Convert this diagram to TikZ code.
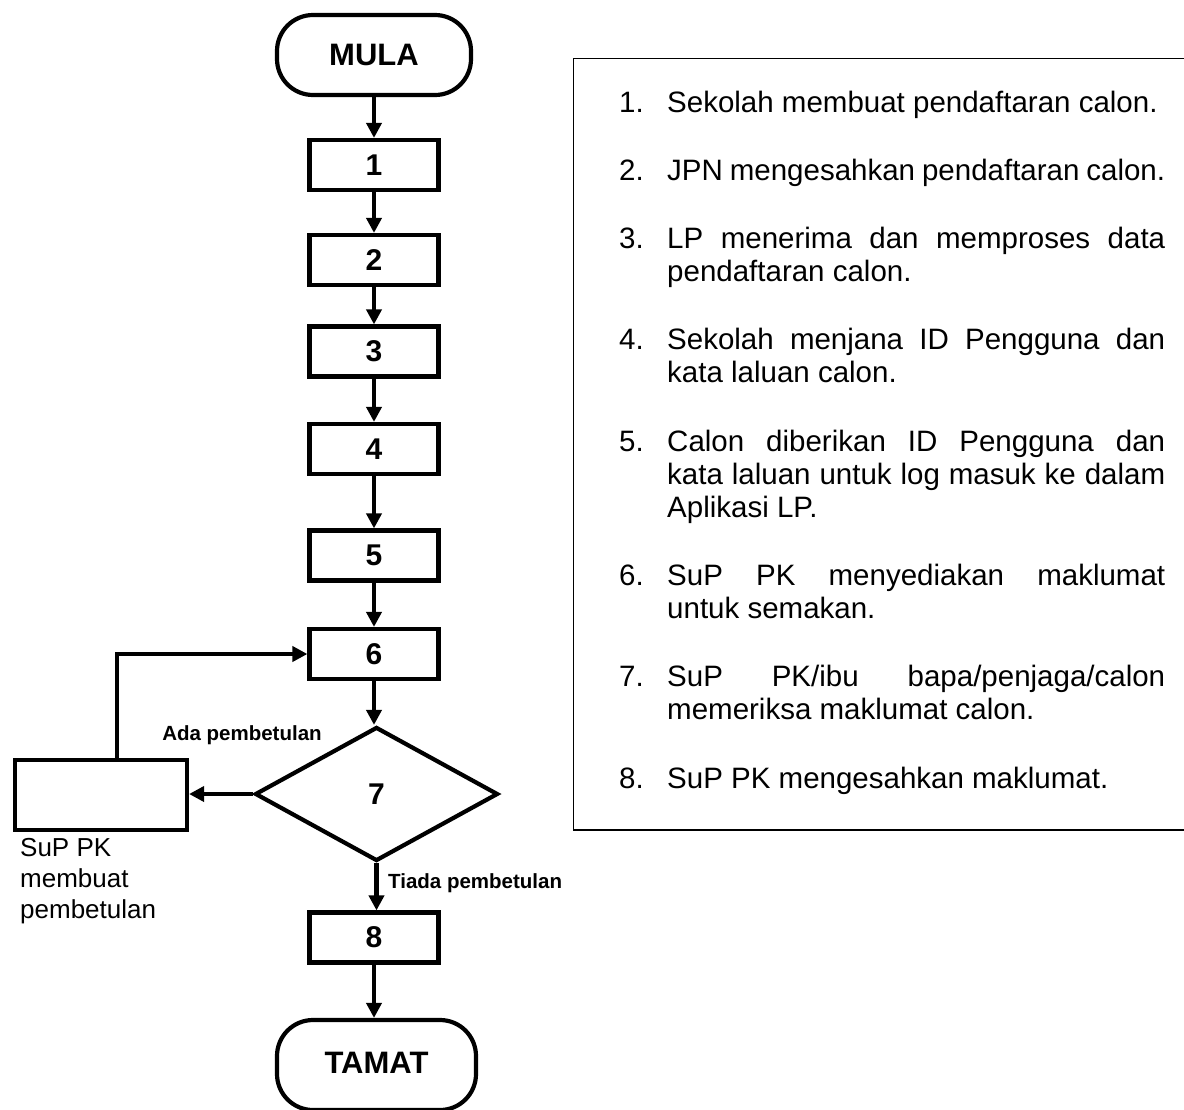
\documentclass[tikz,border=0pt]{standalone}
\usepackage{fontspec}
\setmainfont{Liberation Sans}
\usetikzlibrary{shapes.geometric,arrows.meta}

% one numbered entry of the explanation list: number, then a hanging block
\newcommand\listentry[2]{\makebox[48pt][l]{#1}\parbox[t]{498pt}{#2}}
\newcommand\fillline[1]{\makebox[\linewidth][s]{#1}}

\begin{document}
\begin{tikzpicture}[x=1pt,y=-1pt,
  line join=miter,
  flowline/.style={line width=4.2pt},
  arr/.style={flowline,-{Triangle[length=15pt,width=15pt]}},
  terminal/.style={draw,flowline,rounded corners=36pt,minimum width=194pt,
    minimum height=80pt,inner sep=0pt,font=\fontsize{31}{36}\selectfont\bfseries},
  stepbox/.style={draw,flowline,minimum width=129pt,minimum height=50pt,
    inner sep=0pt,font=\fontsize{30}{36}\selectfont\bfseries},
  decision/.style={draw,flowline,diamond,minimum width=243pt,minimum height=134pt,
    inner sep=0pt,font=\fontsize{30}{36}\selectfont\bfseries},
  branchlbl/.style={font=\fontsize{20.5}{24}\selectfont\bfseries,inner sep=0pt},
  sidenote/.style={font=\fontsize{26}{31}\selectfont,align=left,inner sep=0pt},
  listitem/.style={font=\fontsize{29.5}{33}\selectfont,inner sep=0pt,anchor=base west},
  frame/.style={draw,line width=1.5pt,inner sep=0pt},
]
\useasboundingbox (0,0) rectangle (1184,1109);

% ---- flowchart ----
\node[terminal] (start) at (374,55) {MULA};
\node[stepbox] (s1) at (374,165) {1};
\node[stepbox] (s2) at (374,260) {2};
\node[stepbox] (s3) at (374,351.5) {3};
\node[stepbox] (s4) at (374,449) {4};
\node[stepbox] (s5) at (374,555.5) {5};
\node[stepbox] (s6) at (374,654) {6};
\node[decision] (d7) at (376.5,794) {7};
\node[draw,flowline,minimum width=172pt,minimum height=70pt,inner sep=0pt] (fix) at (101,795) {};
\node[stepbox] (s8) at (374,937.5) {8};
\node[terminal,minimum width=199pt,minimum height=90pt,text height=22pt,text depth=6pt]
  (end) at (376.5,1065) {TAMAT};

\draw[arr] (start) -- (s1);
\draw[arr] (s1) -- (s2);
\draw[arr] (s2) -- (s3);
\draw[arr] (s3) -- (s4);
\draw[arr] (s4) -- (s5);
\draw[arr] (s5) -- (s6);
\draw[arr] (s6.south) -- (s6.south |- d7.north);
\draw[arr] (d7.west) -- (d7.west -| fix.east);
\draw[arr] ([xshift=16pt]fix.north) |- (s6.west);
\draw[arr] (d7.south) -- (d7.south |- s8.north);
\draw[arr] (s8.south) -- (s8.south |- end.north);

\node[branchlbl,anchor=base] (yes) at (242,740) {Ada pembetulan};
\node[branchlbl,anchor=base west] (no) at (388,888) {Tiada pembetulan};
\node[sidenote,anchor=north west] (note) at (20,838) {SuP PK\\membuat\\pembetulan};

% ---- explanation list ----
\node[frame,minimum width=640pt,minimum height=771.5pt,anchor=north west] (listframe) at (572.75,57.75) {};

\node[listitem] (i1) at (619,112) {\listentry{1.}{Sekolah membuat pendaftaran calon.}};
\node[listitem] (i2) at (619,180.3) {\listentry{2.}{JPN mengesahkan pendaftaran calon.}};
\node[listitem] (i3) at (619,248.6) {\listentry{3.}{\fillline{LP menerima dan memproses data}\\pendaftaran calon.}};
\node[listitem] (i4) at (619,349.9) {\listentry{4.}{\fillline{Sekolah menjana ID Pengguna dan}\\kata laluan calon.}};
\node[listitem] (i5) at (619,451.2) {\listentry{5.}{\fillline{Calon diberikan ID Pengguna dan}\\\fillline{kata laluan untuk log masuk ke dalam}\\Aplikasi LP.}};
\node[listitem] (i6) at (619,585.5) {\listentry{6.}{\fillline{SuP PK menyediakan maklumat}\\untuk semakan.}};
\node[listitem] (i7) at (619,686.8) {\listentry{7.}{\fillline{SuP PK/ibu bapa/penjaga/calon}\\memeriksa maklumat calon.}};
\node[listitem] (i8) at (619,788.5) {\listentry{8.}{SuP PK mengesahkan maklumat.}};
\end{tikzpicture}
\end{document}
